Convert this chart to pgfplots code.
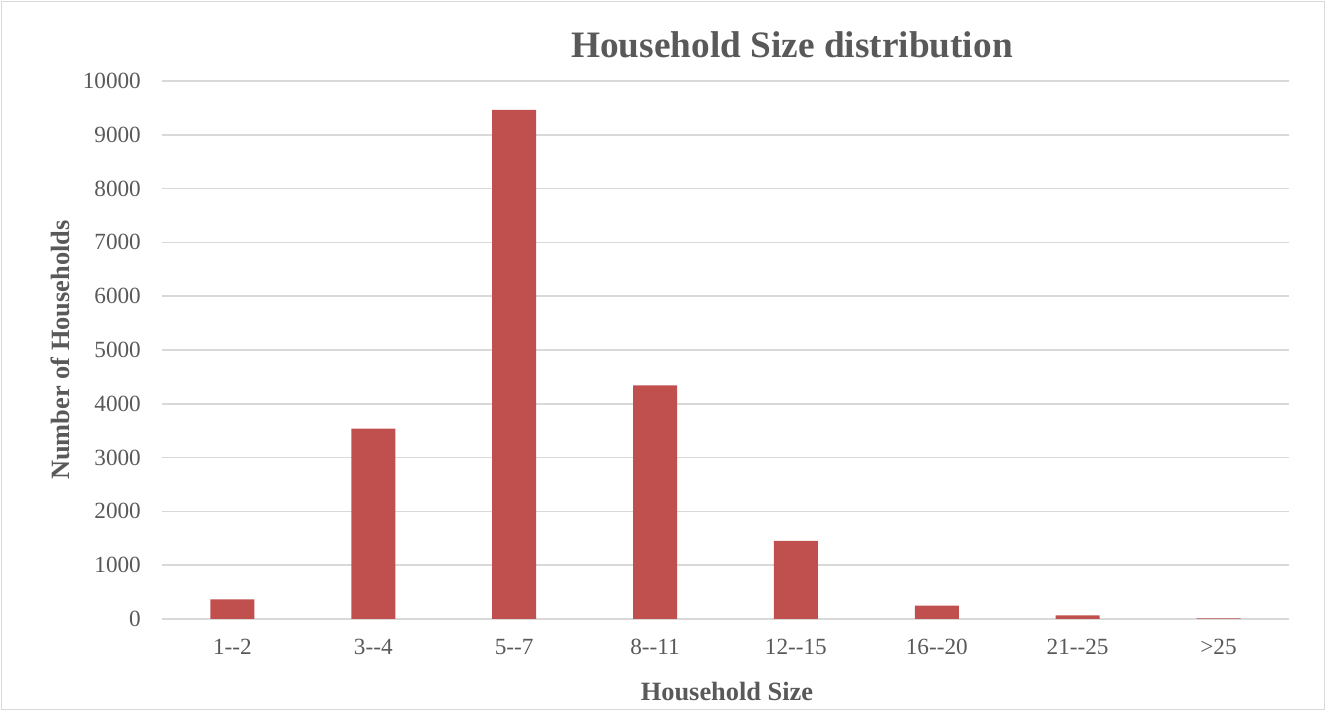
\documentclass[border=0pt]{standalone}
\usepackage{fontspec}
\setmainfont{Liberation Serif}
\usepackage{pgfplots}
\pgfplotsset{compat=1.18}

\definecolor{barred}{HTML}{C0504D}
\definecolor{gridgray}{HTML}{D9D9D9}
\definecolor{textgray}{HTML}{595959}

\begin{document}
\begin{tikzpicture}[x=1pt,y=1pt]
  \path[use as bounding box] (0,0) rectangle (1326,711);
  \draw[gridgray, line width=1.2pt] (1.5,1.5) rectangle (1324.5,709.5);

  \begin{axis}[
    at={(162pt,92pt)}, anchor=south west,
    scale only axis,
    width=1127pt, height=538pt,
    xmin=-0.5, xmax=7.5,
    ymin=0, ymax=10000,
    axis line style={draw=none},
    ybar, bar width=44pt,
    xtick={0,...,7},
    xticklabels={{1-{}-2},{3-{}-4},{5-{}-7},{8-{}-11},{12-{}-15},{16-{}-20},{21-{}-25},{>25}},
    ytick={0,1000,...,10000},
    scaled y ticks=false,
    major tick length=0pt,
    ymajorgrids,
    grid style={gridgray, line width=1.5pt},
    /pgf/number format/1000 sep={},
    /pgf/number format/assume math mode=true,
    tick label style={font=\fontsize{23.2}{27}\selectfont, text=textgray, inner sep=0pt},
    yticklabel style={anchor=east, xshift=-21pt},
    xticklabel style={anchor=base, yshift=-36pt},
  ]
    \addplot[fill=barred, draw=none] coordinates {
      (0,365) (1,3540) (2,9465) (3,4343) (4,1450) (5,250) (6,65) (7,12)
    };
  \end{axis}

  \node[anchor=base, text=textgray, font=\bfseries\fontsize{37.3}{40}\selectfont, inner sep=0pt]
    at (792,653.7) {Household Size distribution};
  \node[anchor=base, text=textgray, font=\bfseries\fontsize{26.4}{30}\selectfont, inner sep=0pt]
    at (727,10) {Household Size};
  \node[anchor=base, rotate=90, text=textgray, font=\bfseries\fontsize{26.4}{30}\selectfont, inner sep=0pt]
    at (69,361) {Number of Households};
\end{tikzpicture}
\end{document}
